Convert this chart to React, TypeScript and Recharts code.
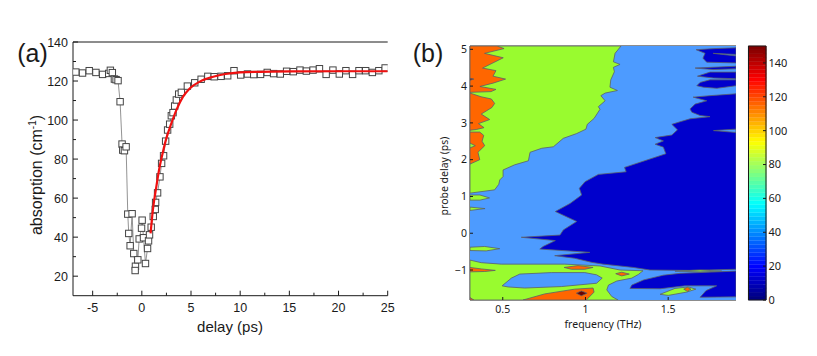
import type { CSSProperties, ReactNode } from "react"
import { Bar, BarChart, ReferenceLine, Scatter, ScatterChart, XAxis, YAxis } from "recharts"

type Pair = [number, number]

// (a) measured absorption vs delay
const delays = [
  -6.71, -6.03, -5.35, -4.67, -3.99, -3.37, -3.2, -3.0, -2.79, -2.62, -2.42, -2.21, -2.01, -1.94, -1.77, -1.6, -1.43,
  -1.33, -1.19, -0.99, -0.82, -0.65, -0.68, -0.41, -0.27, -0.03, 0.03, 0.17, 0.37, 0.58, 0.68, 0.78, 0.95, 1.16, 1.36,
  1.4, 1.6, 1.84, 2.01, 2.21, 2.42, 2.62, 2.83, 3.0, 3.17, 3.34, 3.51, 3.75, 4.02, 4.63, 5.38, 6.03, 6.71, 7.36, 8.05,
  8.73, 9.37, 10.05, 10.74, 11.38, 12.07, 12.75, 13.4, 14.08, 14.72, 15.4, 16.08, 16.73, 17.41, 18.06, 18.74, 19.43,
  20.08, 20.75, 21.43, 22.08, 22.76, 23.44, 24.1, 24.74,
]
const absorption = [
  124.6, 124.1, 125.3, 124.4, 123.4, 123.9, 125.5, 124.3, 121.0, 120.7, 120.2, 109.4, 87.7, 84.6, 84.3, 86.3, 51.8,
  41.9, 35.6, 52.0, 31.6, 25.1, 22.9, 28.4, 39.1, 44.6, 48.7, 39.7, 26.5, 34.2, 38.1, 41.2, 45.1, 50.6, 54.2, 57.8,
  62.7, 70.9, 77.8, 81.7, 89.2, 94.9, 97.9, 102.2, 103.8, 107.2, 110.3, 113.3, 114.2, 117.4, 119.1, 120.9, 122.4,
  122.2, 122.4, 122.7, 125.3, 123.1, 123.6, 123.3, 123.4, 124.4, 123.8, 123.6, 125.0, 124.8, 125.6, 125.1, 125.6,
  126.3, 123.4, 125.6, 123.6, 125.3, 123.4, 125.3, 125.3, 124.4, 125.3, 126.7,
]
const fitDelays = [0.89, 1.12, 1.47, 1.81, 2.15, 2.49, 3.0, 3.51, 4.19, 4.87, 5.89, 7.26, 8.5, 10, 12, 15, 20, 25]
const fitValues = [41.9, 53.8, 65.8, 76.1, 83.8, 90.6, 98.3, 105.1, 112, 116.2, 119.7, 122.2, 123.6, 124.4, 124.7, 124.9, 125, 125]

const aXTicks = [-5, -2.5, 0, 2.5, 5, 7.5, 10, 12.5, 15, 17.5, 20, 22.5, 25]
const aYTicks = [20, 30, 40, 50, 60, 70, 80, 90, 100, 110, 120, 130, 140]

// (b) contour regions, [frequency THz, probe delay ps]
const BLUE = "#4d9bff"
const GREEN = "#99fb2f"
const ORANGE = "#ff6600"
const NAVY = "#0000cc"
const MAROON = "#6a0000"

const plotArea: Pair[] = [[0.302, 5.09], [1.91, 5.09], [1.91, -1.815], [0.302, -1.815]]
const greenUpper: Pair[] = [
  [1.215, 5.09], [1.179, 4.89], [1.169, 4.66], [1.209, 4.59], [1.169, 4.51], [1.175, 4.39], [1.153, 4.17], [1.148, 3.97],
  [1.193, 3.88], [1.119, 3.81], [1.093, 3.74], [1.119, 3.6], [1.078, 3.44], [1.088, 3.37], [1.052, 3.12], [1.011, 2.96],
  [1.003, 2.83], [0.947, 2.71], [0.866, 2.58], [0.806, 2.35], [0.736, 2.31], [0.665, 2.2], [0.655, 1.97], [0.572, 1.86],
  [0.502, 1.72], [0.502, 1.54], [0.482, 1.45], [0.476, 1.33], [0.451, 1.18], [0.302, 1.09], [0.302, 5.09],
]
const greenTongueA: Pair[] = [[0.302, 1.04], [0.362, 1.04], [0.42, 0.96], [0.362, 0.9], [0.302, 0.9]]
const greenTongueB: Pair[] = [[0.302, 0.71], [0.393, 0.67], [0.302, 0.62]]
const greenTongueC: Pair[] = [[0.302, -0.38], [0.391, -0.36], [0.482, -0.42], [0.4, -0.48], [0.302, -0.47]]
const greenLower: Pair[] = [
  [0.302, -0.73], [0.37, -0.8], [0.491, -0.84], [0.875, -0.84], [1.088, -0.89], [1.209, -1.0], [1.348, -1.02],
  [1.32, -1.12], [1.28, -1.22], [1.189, -1.3], [1.139, -1.41], [1.129, -1.54], [1.159, -1.72], [1.197, -1.815],
  [0.302, -1.815],
]
const orangeTop: Pair[] = [
  [0.302, 5.09], [0.465, 5.09], [0.508, 5.02], [0.39, 4.89], [0.503, 4.77], [0.378, 4.49], [0.459, 4.42], [0.441, 4.27],
  [0.517, 4.19], [0.441, 4.08], [0.362, 3.99], [0.459, 3.91], [0.429, 3.85], [0.302, 3.83],
]
const orangeMid: Pair[] = [
  [0.302, 3.81], [0.369, 3.71], [0.431, 3.65], [0.451, 3.53], [0.435, 3.42], [0.37, 3.24], [0.421, 3.09], [0.353, 2.98],
  [0.387, 2.87], [0.34, 2.82], [0.302, 2.8],
]
const orangeLow: Pair[] = [
  [0.302, 2.75], [0.361, 2.75], [0.385, 2.66], [0.375, 2.5], [0.391, 2.38], [0.35, 2.2], [0.361, 2.0], [0.302, 1.88],
]
const orangeHole: Pair[] = [[0.302, 2.45], [0.334, 2.38], [0.302, 2.32]]
const maroonEdge: Pair[] = [[0.302, 4.21], [0.325, 4.19], [0.302, 4.16]]
const orangeTongue: Pair[] = [[0.302, -0.93], [0.37, -0.97], [0.455, -1.01], [0.391, -1.04], [0.302, -1.05]]
const orangeOvalA: Pair[] = [[0.871, -0.93], [0.955, -0.88], [1.046, -0.93], [0.996, -0.98], [0.915, -0.98]]
const orangeOvalB: Pair[] = [[1.183, -1.1], [1.219, -1.06], [1.265, -1.11], [1.219, -1.16]]
const blueIsland: Pair[] = [
  [0.496, -1.43], [0.552, -1.22], [0.603, -1.11], [0.794, -1.07], [0.996, -1.07], [1.067, -1.13], [1.101, -1.22],
  [1.067, -1.36], [0.854, -1.45], [0.633, -1.49], [0.532, -1.46],
]
const orangeBottom: Pair[] = [
  [0.623, -1.815], [0.753, -1.65], [0.935, -1.52], [1.046, -1.49], [1.052, -1.6], [1.005, -1.815],
]
const orangeCorner: Pair[] = [[0.302, -1.75], [0.325, -1.815], [0.302, -1.815]]
const maroonBottom: Pair[] = [[0.945, -1.63], [0.975, -1.57], [1.01, -1.63], [0.975, -1.7]]
const navyMain: Pair[] = [
  [1.91, 3.79], [1.753, 3.74], [1.651, 3.7], [1.733, 3.6], [1.663, 3.51], [1.632, 3.38], [1.643, 3.29], [1.693, 3.2],
  [1.753, 3.17], [1.632, 3.11], [1.572, 3.03], [1.522, 2.96], [1.556, 2.81], [1.522, 2.67], [1.421, 2.6], [1.471, 2.51],
  [1.421, 2.42], [1.471, 2.34], [1.486, 2.16], [1.236, 1.79], [1.246, 1.67], [1.078, 1.6], [0.997, 1.4], [0.963, 1.22],
  [0.977, 1.04], [0.907, 0.81], [0.818, 0.59], [0.947, 0.32], [0.866, 0.09], [0.846, -0.05], [0.612, -0.11],
  [0.818, -0.2], [0.744, -0.36], [0.724, -0.43], [1.026, -0.52], [0.814, -0.61], [0.935, -0.68], [1.036, -0.79],
  [1.107, -0.84], [1.29, -0.93], [1.39, -1.0], [1.632, -1.01], [1.91, -0.98],
]
const blueSliver: Pair[] = [[1.774, 2.79], [1.91, 2.83], [1.91, 2.74]]
const fingerA: Pair[] = [
  [1.669, 4.99], [1.784, 5.02], [1.91, 5.04], [1.91, 4.63], [1.733, 4.65], [1.71, 4.76], [1.723, 4.89],
]
const fingerSliver: Pair[] = [[1.772, 4.89], [1.91, 4.86], [1.91, 4.82]]
const fingerB: Pair[] = [[1.663, 4.49], [1.91, 4.54], [1.91, 4.47], [1.772, 4.45]]
const fingerC: Pair[] = [[1.677, 4.27], [1.753, 4.38], [1.91, 4.38], [1.91, 4.2], [1.774, 4.22]]
const fingerD: Pair[] = [[1.673, 4.01], [1.693, 4.1], [1.753, 4.17], [1.91, 4.17], [1.91, 4.01], [1.794, 3.94], [1.713, 3.97]]
const navyLower: Pair[] = [
  [1.269, -1.5], [1.28, -1.41], [1.351, -1.27], [1.471, -1.14], [1.572, -1.09], [1.91, -1.03], [1.91, -1.73],
  [1.693, -1.74], [1.729, -1.56], [1.793, -1.43], [1.602, -1.43], [1.451, -1.51],
]
const greenIsland: Pair[] = [[1.451, -1.66], [1.541, -1.5], [1.622, -1.46], [1.667, -1.52], [1.612, -1.6], [1.501, -1.69]]
const orangeSpot: Pair[] = [[1.594, -1.52], [1.616, -1.47], [1.638, -1.52], [1.616, -1.58]]
const greenStrip: Pair[] = [[1.541, -1.03], [1.693, -1.0], [1.824, -1.03], [1.693, -1.05]]

// painter's order, later regions sit on top
const regions: [Pair[], string][] = [
  [plotArea, BLUE],
  [greenUpper, GREEN],
  [greenTongueA, GREEN],
  [greenTongueB, GREEN],
  [greenTongueC, GREEN],
  [greenLower, GREEN],
  [orangeTop, ORANGE],
  [orangeMid, ORANGE],
  [orangeLow, ORANGE],
  [orangeHole, GREEN],
  [maroonEdge, MAROON],
  [orangeTongue, ORANGE],
  [orangeOvalA, ORANGE],
  [orangeOvalB, ORANGE],
  [blueIsland, BLUE],
  [orangeBottom, ORANGE],
  [orangeCorner, ORANGE],
  [maroonBottom, MAROON],
  [navyMain, NAVY],
  [blueSliver, BLUE],
  [fingerA, NAVY],
  [fingerSliver, BLUE],
  [fingerB, NAVY],
  [fingerC, NAVY],
  [fingerD, NAVY],
  [navyLower, NAVY],
  [greenIsland, GREEN],
  [orangeSpot, ORANGE],
  [greenStrip, GREEN],
]

const bXTicks = [0.5, 1, 1.5]
const bYTicks = [-1, 0, 1, 2, 3, 4, 5]
const barTicks = [0, 20, 40, 60, 80, 100, 120, 140]

// jet colormap, 64 levels over 0-150
function jet(t: number) {
  const ch = (v: number) => Math.round(255 * Math.max(0, Math.min(1, v)))
  return `rgb(${ch(1.5 - Math.abs(4 * t - 3))},${ch(1.5 - Math.abs(4 * t - 2))},${ch(1.5 - Math.abs(4 * t - 1))})`
}
const levels = Array.from({ length: 64 }, (_, i) => i)
const barRow = [Object.fromEntries(levels.map((i) => [`l${i}`, 150 / 64]))]

const SANS = "'Liberation Sans', Arial, sans-serif"
const NOTO = "'Noto Sans', sans-serif"
const INK = "#1a1a1a"

const closed = (pts: Pair[]) => [...pts, pts[0]].map(([f, d]) => ({ f, d }))
const noDot = () => null

function Label({ x, y, size, font, rotate, children }: { x: number; y: number; size: number; font: string; rotate?: boolean; children: ReactNode }) {
  const style: CSSProperties = {
    position: "absolute",
    left: x,
    top: y,
    fontFamily: font,
    fontSize: size,
    lineHeight: 1,
    color: "#1a1a1a",
    whiteSpace: "nowrap",
    transform: `translate(-50%,-50%)${rotate ? " rotate(-90deg)" : ""}`,
  }
  return <div style={style}>{children}</div>
}

// Axis ticks draw their own inward tick line plus an optional label.
function xTick(dir: 1 | -1, fmt?: (v: number) => string | null, len = 5, minorLen = 3, font = SANS, size = 12.5, gap = 16) {
  return (p: any) => {
    const v = p.payload.value
    const text = fmt ? fmt(v) : null
    const major = !fmt || text !== null
    return (
      <g>
        <line x1={p.x} x2={p.x} y1={p.y} y2={p.y + dir * (major ? len : minorLen)} stroke={INK} strokeWidth={1} />
        {text && (
          <text x={p.x} y={p.y + gap} textAnchor="middle" fontFamily={font} fontSize={size} fill={INK}>
            {text}
          </text>
        )}
      </g>
    )
  }
}

function yTick(dir: 1 | -1, fmt?: (v: number) => string | null, len = 5, minorLen = 3, font = SANS, size = 12.5, gap = 5) {
  return (p: any) => {
    const v = p.payload.value
    const text = fmt ? fmt(v) : null
    const major = v % 20 === 0 || (fmt && text !== null)
    return (
      <g>
        <line x1={p.x} x2={p.x + dir * (major ? len : minorLen)} y1={p.y} y2={p.y} stroke={INK} strokeWidth={1} />
        {text && (
          <text x={p.x - dir * gap} y={p.y + size * 0.36} textAnchor={dir > 0 ? "end" : "start"} fontFamily={font} fontSize={size} fill={INK}>
            {text}
          </text>
        )}
      </g>
    )
  }
}

function AbsorptionPanel() {
  const points = delays.map((x, i) => ({ x, y: absorption[i] }))
  const fit = fitDelays.map((x, i) => ({ x, y: fitValues[i] }))
  return (
    <div style={{ position: "absolute", left: 0, top: 0 }}>
      <ScatterChart width={400} height={330} margin={{ top: 42, right: 12.3, bottom: 0, left: 0 }}>
        <XAxis
          type="number"
          dataKey="x"
          domain={[-7, 25]}
          ticks={aXTicks}
          interval={0}
          height={34.3}
          allowDataOverflow
          stroke={INK}
          tickLine={false}
          tickSize={0}
          tickMargin={0}
          tick={xTick(-1, (v) => (v % 5 === 0 ? String(v) : null))}
        />
        <YAxis
          type="number"
          dataKey="y"
          domain={[10, 140]}
          ticks={aYTicks}
          interval={0}
          width={73}
          allowDataOverflow
          stroke={INK}
          tickLine={false}
          tickSize={0}
          tickMargin={0}
          tick={yTick(1, (v) => (v % 20 === 0 ? String(v) : null))}
        />
        <YAxis
          yAxisId="right"
          orientation="right"
          type="number"
          domain={[10, 140]}
          ticks={aYTicks}
          interval={0}
          width={0}
          stroke={INK}
          tickLine={false}
          tickSize={0}
          tickMargin={0}
          tick={yTick(-1)}
        />
        <ReferenceLine y={140} stroke={INK} strokeWidth={1} />
        <Scatter
          data={points}
          isAnimationActive={false}
          line={{ stroke: "#777", strokeWidth: 0.8 }}
          shape={(p: any) => <rect x={p.cx - 3.2} y={p.cy - 3.2} width={6.4} height={6.4} fill="#fff" stroke="#444" strokeWidth={1} />}
        />
        <Scatter
          data={fit}
          isAnimationActive={false}
          line={{ stroke: "#f01010", strokeWidth: 2.2 }}
          lineJointType="monotoneX"
          shape={noDot}
        />
      </ScatterChart>
    </div>
  )
}

function ContourPanel() {
  return (
    <div style={{ position: "absolute", left: 420, top: 0 }}>
      <ScatterChart width={330} height={330} margin={{ top: 46, right: 14, bottom: 0, left: 0 }}>
        <XAxis
          type="number"
          dataKey="f"
          domain={[0.302, 1.91]}
          ticks={bXTicks}
          interval={0}
          height={30}
          allowDataOverflow
          stroke={INK}
          tickLine={false}
          tickSize={0}
          tickMargin={0}
          tick={xTick(-1, (v) => String(v), 3, 3, NOTO, 10.5, 13)}
        />
        <XAxis
          xAxisId="top"
          orientation="top"
          type="number"
          domain={[0.302, 1.91]}
          ticks={bXTicks}
          interval={0}
          height={0}
          stroke={INK}
          tickLine={false}
          tickSize={0}
          tickMargin={0}
          tick={xTick(1, undefined, 3, 3)}
        />
        <YAxis
          type="number"
          dataKey="d"
          domain={[-1.815, 5.09]}
          ticks={bYTicks}
          interval={0}
          width={50}
          allowDataOverflow
          stroke={INK}
          tickLine={false}
          tickSize={0}
          tickMargin={0}
          tick={yTick(1, (v) => (v < 0 ? `\u2212${-v}` : String(v)), 3, 3, NOTO, 10.5, 3)}
        />
        <YAxis
          yAxisId="right"
          orientation="right"
          type="number"
          domain={[-1.815, 5.09]}
          ticks={bYTicks}
          interval={0}
          width={0}
          stroke={INK}
          tickLine={false}
          tickSize={0}
          tickMargin={0}
          tick={yTick(-1, undefined, 3, 3)}
        />
        {regions.map(([pts, color], i) => (
          <Scatter
            key={i}
            data={closed(pts)}
            isAnimationActive={false}
            line={{ fill: color, stroke: i === 0 ? color : "#5a5f6a", strokeWidth: i === 0 ? 0 : 0.8 }}
            shape={noDot}
          />
        ))}
        <ReferenceLine y={5.09} stroke={INK} strokeWidth={1} />
      </ScatterChart>
    </div>
  )
}

function ColorBar() {
  return (
    <div style={{ position: "absolute", left: 740, top: 0 }}>
      <BarChart width={66} height={330} data={barRow} barCategoryGap={0} margin={{ top: 46, right: 0, bottom: 30, left: 8.3 }}>
        <XAxis hide />
        <YAxis
          orientation="right"
          type="number"
          domain={[0, 150]}
          ticks={barTicks}
          interval={0}
          width={40}
          stroke={INK}
          tickLine={false}
          tickSize={0}
          tickMargin={0}
          tick={yTick(-1, (v) => String(v), 3, 3, NOTO, 11, 2.5)}
        />
        {levels.map((i) => (
          <Bar key={i} dataKey={`l${i}`} stackId="scale" fill={jet(i / 63)} stroke={jet(i / 63)} strokeWidth={0.3} isAnimationActive={false} />
        ))}
        <ReferenceLine y={150} stroke={INK} strokeWidth={1} />
        <ReferenceLine y={0} stroke={INK} strokeWidth={1} />
      </BarChart>
      <div style={{ position: "absolute", left: 8, top: 46, width: 0, height: 254, borderLeft: `1px solid ${INK}` }} />
    </div>
  )
}

export default function App() {
  return (
    <div style={{ position: "absolute", left: 0, top: 0, width: 817, height: 356, background: "#fff", overflow: "hidden" }}>
      <AbsorptionPanel />
      <ContourPanel />
      <ColorBar />
      <Label x={32.5} y={53} size={25} font={SANS}>(a)</Label>
      <Label x={428} y={53} size={25} font={SANS}>(b)</Label>
      <Label x={37} y={175} size={16} font={SANS} rotate>
        absorption (cm<sup style={{ fontSize: 10, lineHeight: 0 }}>-1</sup>)
      </Label>
      <Label x={230} y={326} size={15} font={SANS}>delay (ps)</Label>
      <Label x={444} y={176} size={10.5} font={NOTO} rotate>probe delay (ps)</Label>
      <Label x={603} y={323.5} size={10.5} font={NOTO}>frequency (THz)</Label>
    </div>
  )
}
